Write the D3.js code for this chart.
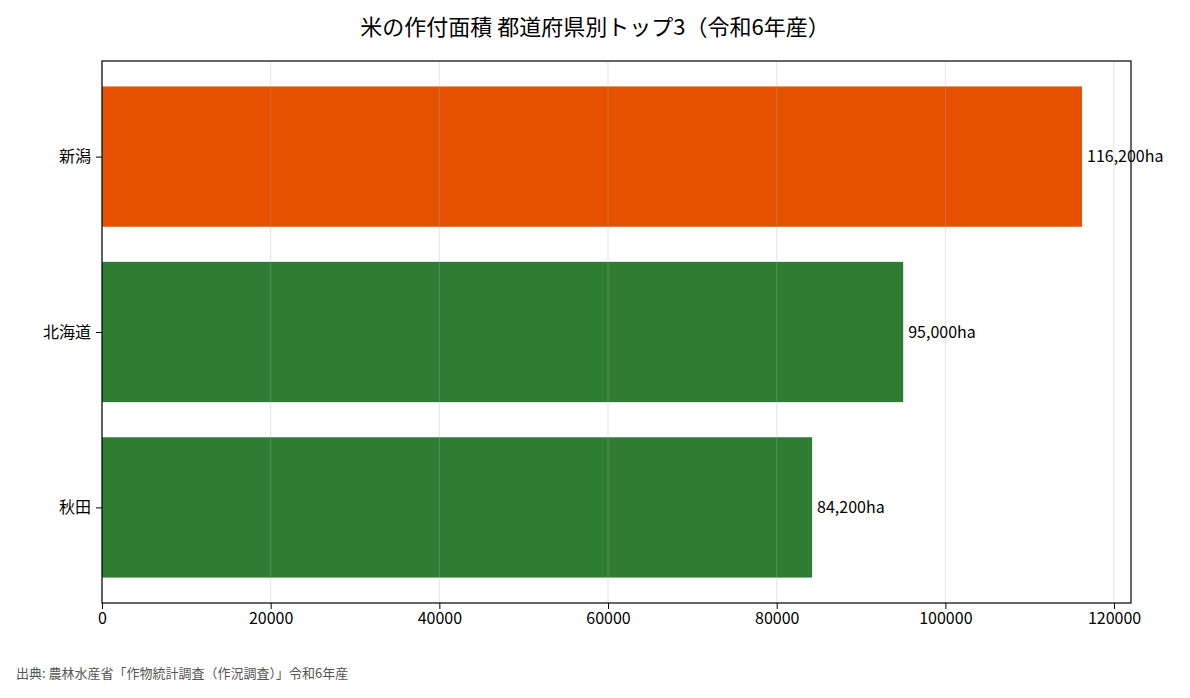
<!DOCTYPE html>
<html><head><meta charset="utf-8">
<script src="https://cdn.jsdelivr.net/npm/d3@7"></script>
<style>body{margin:0;background:#fff;font-family:"Noto Sans CJK JP","Noto Sans",sans-serif;}</style>
</head><body><div id="chart"></div>
<script>
const prefectures = ["新潟", "北海道", "秋田"];
const areas = [116200, 95000, 84200];
const barColors = ["#e65100", "#2e7d32", "#2e7d32"];
const xTicks = [0, 20000, 40000, 60000, 80000, 100000, 120000];

const W = 1190, H = 698;
const m = { left: 102, right: 1131, top: 61, bottom: 603 };

const svg = d3.select("#chart").append("svg").attr("width", W).attr("height", H);

const x = d3.scaleLinear().domain([0, 116200 * 1.05]).range([m.left, m.right]);
const y = d3.scaleLinear().domain([-0.545, 2.545]).range([m.top, m.bottom]);
const bh = y(0.8) - y(0);

svg.append("text").attr("x", W / 2).attr("y", 35).attr("text-anchor", "middle")
  .attr("font-size", 22).text("米の作付面積 都道府県別トップ3（令和6年産）");

const data = prefectures.map((p, i) => ({ name: p, value: areas[i], color: barColors[i], i }));

svg.selectAll("rect.bar").data(data).enter().append("rect")
  .attr("x", x(0)).attr("y", d => y(d.i) - bh / 2)
  .attr("width", d => x(d.value) - x(0)).attr("height", bh)
  .attr("fill", d => d.color);

// grid on top of the bars
svg.selectAll("line.grid").data(xTicks).enter().append("line")
  .attr("x1", d => x(d)).attr("x2", d => x(d))
  .attr("y1", m.top).attr("y2", m.bottom)
  .attr("stroke", "#b0b0b0").attr("stroke-opacity", 0.35);

svg.selectAll("text.val").data(data).enter().append("text")
  .attr("x", d => x(d.value) + 5).attr("y", d => y(d.i)).attr("dy", "0.35em")
  .attr("font-size", 16).text(d => d3.format(",")(d.value) + "ha");

svg.append("rect").attr("x", m.left).attr("y", m.top)
  .attr("width", m.right - m.left).attr("height", m.bottom - m.top)
  .attr("fill", "none").attr("stroke", "#000").attr("stroke-width", 1.2);

const xAxis = svg.append("g").attr("transform", `translate(0,${m.bottom})`)
  .call(d3.axisBottom(x).tickValues(xTicks).tickFormat(d3.format("d")).tickSize(6).tickPadding(4));
xAxis.select(".domain").remove();
xAxis.selectAll("text").attr("font-size", 16).attr("font-family", "Noto Sans CJK JP");

const yAxis = svg.append("g").attr("transform", `translate(${m.left},0)`)
  .call(d3.axisLeft(y).tickValues([0, 1, 2]).tickFormat(i => prefectures[i]).tickSize(6).tickPadding(5));
yAxis.select(".domain").remove();
yAxis.selectAll("text").attr("font-size", 16).attr("font-family", "Noto Sans CJK JP");

svg.append("text").attr("x", 16).attr("y", 678).attr("font-size", 13).attr("fill", "#555")
  .text("出典: 農林水産省「作物統計調査（作況調査）」令和6年産");
</script></body></html>
